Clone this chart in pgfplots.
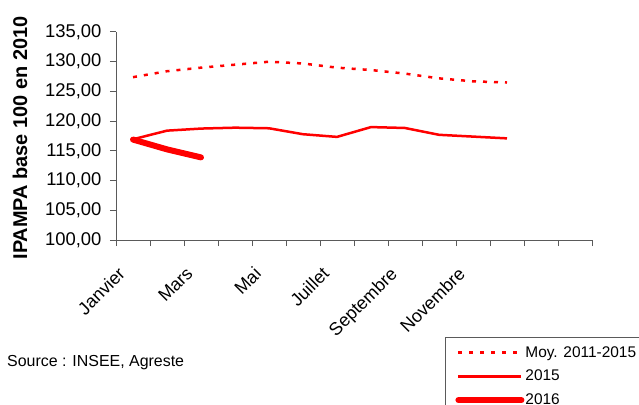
\documentclass[border=0pt]{standalone}
\usepackage{fontspec}
\setmainfont{Liberation Sans}
\usepackage{pgfplots}
\pgfplotsset{compat=1.18}
\definecolor{xred}{RGB}{255,0,0}
\definecolor{axgray}{RGB}{90,90,90}
\begin{document}
\begin{tikzpicture}
\useasboundingbox (0,0) rectangle (639bp,405bp);
\clip (0,0) rectangle (639bp,405bp);
\begin{axis}[
  at={(116bp,165bp)}, anchor=south west,
  scale only axis, width=476bp, height=208bp,
  xmin=-0.5, xmax=13.5, ymin=100, ymax=135,
  axis x line*=bottom, axis y line*=left,
  axis line style={draw=axgray, line width=1bp},
  tick style={draw=axgray, line width=1bp},
  tick align=outside,
  major tick length=6bp,
  xtick={-0.5,0.5,...,13.5},
  xticklabels={},
  extra x ticks={0,2,4,6,8,10},
  extra x tick labels={Janvier,Mars,Mai,Juillet,Septembre,Novembre},
  extra x tick style={major tick length=0pt,
    tick label style={xshift=-16bp, yshift=-21bp, rotate=45, anchor=north east, font=\fontsize{18}{21}\selectfont}},
  ytick={100,105,...,135},
  yticklabel style={font=\fontsize{18.5}{21}\selectfont, xshift=-5bp},
  /pgf/number format/.cd, fixed, fixed zerofill, precision=2, use comma, 1000 sep={}, assume math mode=true,
  /pgfplots/.cd,
  ylabel={IPAMPA base 100 en 2010},
  every axis y label/.style={at={(rel axis cs:-0.2017,0.49)}, rotate=90, anchor=center, font=\fontsize{20}{24}\selectfont\bfseries},
  legend image code/.code={\draw[#1] (0bp,0bp) -- (63bp,0bp);},
  legend cell align=left,
  legend style={at={(0.691,-0.466)}, anchor=north west, draw=axgray, line width=1bp,
    font=\fontsize{15.5}{18}\selectfont, inner xsep=10bp, inner ysep=8bp, row sep=9.5bp,
    nodes={inner sep=1bp}},
]
\addplot[xred, line width=2.5bp, dash pattern=on 4bp off 7bp] coordinates {
(0,127.4) (1,128.4) (2,129.0) (3,129.5) (4,130.0) (5,129.7)
(6,129.0) (7,128.6) (8,128.0) (9,127.2) (10,126.7) (11,126.5)};
\addlegendentry{Moy. 2011-2015\hspace{12bp}}
\addplot[xred, line width=2.5bp] coordinates {
(0,116.95) (1,118.4) (2,118.75) (3,118.9) (4,118.8) (5,117.8)
(6,117.35) (7,119.0) (8,118.85) (9,117.7) (10,117.4) (11,117.1)};
\addlegendentry{2015}
\addplot[xred, line width=6bp, line cap=round] coordinates {
(0,116.9) (1,115.25) (2,113.9)};
\addlegendentry{2016}
\end{axis}
\node[anchor=west, font=\fontsize{16}{19}\selectfont, inner sep=0pt] at (7bp,42bp) {Source : INSEE, Agreste};
\end{tikzpicture}
\end{document}
